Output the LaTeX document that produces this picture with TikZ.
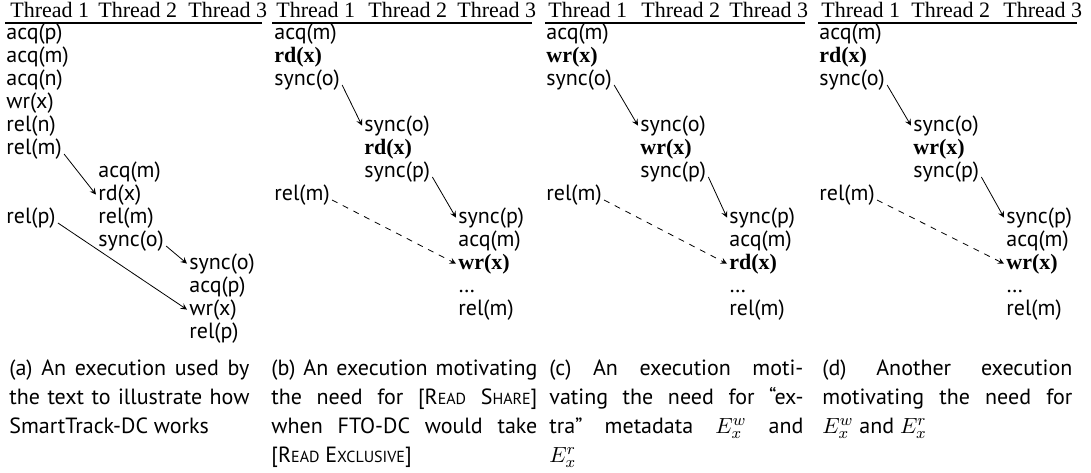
\documentclass[tikz,border=0pt]{standalone}
\usepackage{fontspec}
\setmainfont{PT Sans}
\newfontfamily\hdfont{Liberation Serif}
\usetikzlibrary{arrows, positioning}

\newcommand{\fsc}[2]{#1{\footnotesize #2}}

\begin{document}
\begin{tikzpicture}[
  x=0.5pt, y=-0.5pt,
  >=stealth,
  head/.style={anchor=base west, inner sep=1pt, font=\hdfont\fontsize{11}{14}\selectfont},
  op/.style={anchor=base west, inner sep=1pt, font=\fontsize{11}{14}\selectfont},
  bop/.style={op, font=\hdfont\bfseries\fontsize{11}{14}\selectfont},
  hrule/.style={line width=0.9pt},
  syncflow/.style={->, line width=0.4pt},
  lockflow/.style={->, dashed, line width=0.4pt},
  capt/.style={anchor=base west, inner sep=0pt, align=justify, font=\fontsize{11}{14.5}\selectfont}
]
\useasboundingbox (0,0) rectangle (1091,472);

% (a)
\node[head] (a_h1) at (8, 17) {Thread 1};
\node[head] (a_h2) at (96, 17) {Thread 2};
\node[head] (a_h3) at (186, 17) {Thread 3};
\draw[hrule] (5, 23) -- (262, 23);

\node[op] (a_acq_p) at (4, 39) {acq(p)};
\node[op] (a_acq_m) at (4, 62) {acq(m)};
\node[op] (a_acq_n) at (4, 85) {acq(n)};
\node[op] (a_wr_x) at (4, 108) {wr(x)};
\node[op] (a_rel_n) at (4, 131) {rel(n)};
\node[op] (a_rel_m) at (4, 154) {rel(m)};
\node[op] (a_rel_p) at (4, 223) {rel(p)};

\node[op] (a_acq_m2) at (96, 177) {acq(m)};
\node[op] (a_rd_x2) at (96, 200) {rd(x)};
\node[op] (a_rel_m2) at (96, 223) {rel(m)};
\node[op] (a_sync_o2) at (96, 246) {sync(o)};

\node[op] (a_sync_o3) at (187, 269) {sync(o)};
\node[op] (a_acq_p3) at (187, 292) {acq(p)};
\node[op] (a_wr_x3) at (187, 315) {wr(x)};
\node[op] (a_rel_p3) at (187, 338) {rel(p)};

\draw[syncflow] (a_rel_m.base east) -- (a_rd_x2.west);
\draw[syncflow] (a_rel_p.base east) -- (a_wr_x3.west);
\draw[syncflow] (a_sync_o2.base east) -- (a_sync_o3.west);

% (b)
\node[head] (b_h1) at (274, 17) {Thread 1};
\node[head] (b_h2) at (366, 17) {Thread 2};
\node[head] (b_h3) at (455, 17) {Thread 3};
\draw[hrule] (272, 23) -- (532, 23);

\node[op] (b_acq_m) at (272, 39) {acq(m)};
\node[bop] (b_rd_x) at (272, 62) {rd(x)};
\node[op] (b_sync_o) at (272, 85) {sync(o)};
\node[op] (b_rel_m) at (272, 200) {rel(m)};

\node[op] (b_sync_o2) at (362, 131) {sync(o)};
\node[bop] (b_rd_x2) at (362, 154) {rd(x)};
\node[op] (b_sync_p2) at (362, 177) {sync(p)};

\node[op] (b_sync_p3) at (456, 223) {sync(p)};
\node[op] (b_acq_m3) at (456, 246) {acq(m)};
\node[bop] (b_wr_x3) at (456, 269) {wr(x)};
\node[op] (b_dots3) at (456, 292) {\dots};
\node[op] (b_rel_m3) at (456, 315) {rel(m)};

\draw[syncflow] (b_sync_o.base east) -- (b_sync_o2.west);
\draw[syncflow] (b_sync_p2.base east) -- (b_sync_p3.west);
\draw[lockflow] (b_rel_m.base east) -- (b_wr_x3.west);

% (c)
\node[head] (c_h1) at (546, 17) {Thread 1};
\node[head] (c_h2) at (639, 17) {Thread 2};
\node[head] (c_h3) at (727, 17) {Thread 3};
\draw[hrule] (545, 23) -- (805, 23);

\node[op] (c_acq_m) at (544, 39) {acq(m)};
\node[bop] (c_wr_x) at (544, 62) {wr(x)};
\node[op] (c_sync_o) at (544, 85) {sync(o)};
\node[op] (c_rel_m) at (544, 200) {rel(m)};

\node[op] (c_sync_o2) at (638, 131) {sync(o)};
\node[bop] (c_wr_x2) at (638, 154) {wr(x)};
\node[op] (c_sync_p2) at (638, 177) {sync(p)};

\node[op] (c_sync_p3) at (727, 223) {sync(p)};
\node[op] (c_acq_m3) at (727, 246) {acq(m)};
\node[bop] (c_rd_x3) at (727, 269) {rd(x)};
\node[op] (c_dots3) at (727, 292) {\dots};
\node[op] (c_rel_m3) at (727, 315) {rel(m)};

\draw[syncflow] (c_sync_o.base east) -- (c_sync_o2.west);
\draw[syncflow] (c_sync_p2.base east) -- (c_sync_p3.west);
\draw[lockflow] (c_rel_m.base east) -- (c_rd_x3.west);

% (d)
\node[head] (d_h1) at (819, 17) {Thread 1};
\node[head] (d_h2) at (909, 17) {Thread 2};
\node[head] (d_h3) at (1001, 17) {Thread 3};
\draw[hrule] (818, 23) -- (1077, 23);

\node[op] (d_acq_m) at (817, 39) {acq(m)};
\node[bop] (d_rd_x) at (817, 62) {rd(x)};
\node[op] (d_sync_o) at (817, 85) {sync(o)};
\node[op] (d_rel_m) at (817, 200) {rel(m)};

\node[op] (d_sync_o2) at (911, 131) {sync(o)};
\node[bop] (d_wr_x2) at (911, 154) {wr(x)};
\node[op] (d_sync_p2) at (911, 177) {sync(p)};

\node[op] (d_sync_p3) at (1004, 223) {sync(p)};
\node[op] (d_acq_m3) at (1004, 246) {acq(m)};
\node[bop] (d_wr_x3) at (1004, 269) {wr(x)};
\node[op] (d_dots3) at (1004, 292) {\dots};
\node[op] (d_rel_m3) at (1004, 315) {rel(m)};

\draw[syncflow] (d_sync_o.base east) -- (d_sync_o2.west);
\draw[syncflow] (d_sync_p2.base east) -- (d_sync_p3.west);
\draw[lockflow] (d_rel_m.base east) -- (d_wr_x3.west);

% captions
\node[capt, text width=120pt] (a_caption) at (9, 375)
  {(a) An execution used by\linebreak{}the text to illustrate how\linebreak{}SmartTrack-DC works};
\node[capt, text width=133pt] (b_caption) at (271, 375)
  {(b) An execution motivating\linebreak{}the need for {[}\fsc{R}{EAD} \fsc{S}{HARE}{]}\linebreak{}when FTO-DC would take\linebreak{}{[}\fsc{R}{EAD} \fsc{E}{XCLUSIVE}{]}};
\node[capt, text width=127pt] (c_caption) at (549, 375)
  {(c) An execution moti-\linebreak{}vating the need for “ex-\linebreak{}tra” metadata $E^w_x$ and\linebreak{}$E^r_x$};
\node[capt, text width=125pt] (d_caption) at (822, 375)
  {(d) Another execution\linebreak{}motivating the need for\linebreak{}$E^w_x$ and $E^r_x$};
\end{tikzpicture}
\end{document}
